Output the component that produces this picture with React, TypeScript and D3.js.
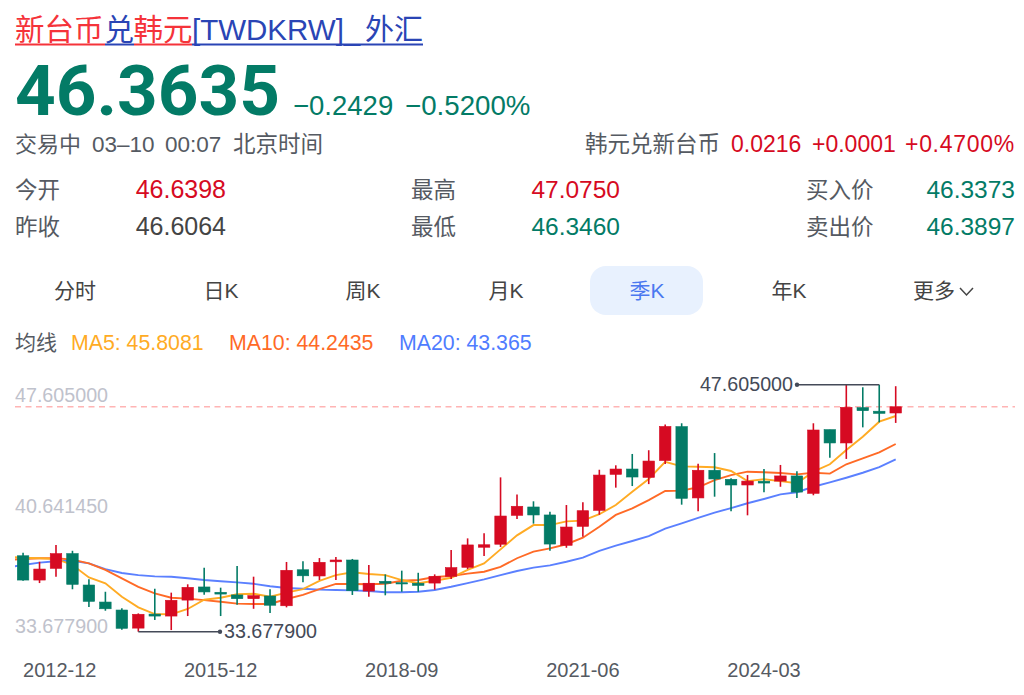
import React, { useEffect, useRef } from 'react';
import * as d3 from 'd3';

// one quarter before the first candle, only the MA lines reach into it
const quarters = [
	'2012-09', '2012-12',
	'2013-03', '2013-06', '2013-09', '2013-12',
	'2014-03', '2014-06', '2014-09', '2014-12',
	'2015-03', '2015-06', '2015-09', '2015-12',
	'2016-03', '2016-06', '2016-09', '2016-12',
	'2017-03', '2017-06', '2017-09', '2017-12',
	'2018-03', '2018-06', '2018-09', '2018-12',
	'2019-03', '2019-06', '2019-09', '2019-12',
	'2020-03', '2020-06', '2020-09', '2020-12',
	'2021-03', '2021-06', '2021-09', '2021-12',
	'2022-03', '2022-06', '2022-09', '2022-12',
	'2023-03', '2023-06', '2023-09', '2023-12',
	'2024-03', '2024-06', '2024-09', '2024-12',
	'2025-03', '2025-06', '2025-09', '2025-12',
	'2026-03',
];

const opens = [
	37.96, 36.59, 37.25, 38.08, 36.31, 35.35, 34.90, 33.88, 34.67, 34.56,
	35.46, 36.20, 35.90, 35.75, 35.54, 35.69, 35.14, 37.17, 36.82, 37.62,
	37.72, 35.97, 36.52, 36.44, 36.41, 36.42, 36.80, 37.31, 38.44, 38.61,
	40.24, 40.71, 40.26, 38.55, 39.62, 40.52, 42.55, 42.85, 42.38, 43.33,
	45.24, 41.22, 42.78, 42.27, 41.95, 42.16, 42.17, 42.46, 41.48, 45.07,
	44.32, 46.31, 46.11, 46.01,
];
const closes = [
	36.59, 37.21, 38.08, 36.35, 35.39, 34.97, 33.87, 34.66, 34.56, 35.45,
	36.18, 35.92, 35.80, 35.54, 35.71, 35.17, 37.14, 36.83, 37.59, 37.72,
	35.99, 36.41, 36.41, 36.37, 36.29, 36.80, 37.29, 38.57, 38.58, 40.20,
	40.75, 40.26, 38.62, 39.58, 40.50, 42.51, 42.85, 42.40, 43.30, 45.25,
	41.20, 42.78, 42.29, 41.95, 42.17, 42.06, 42.46, 41.55, 45.05, 44.32,
	46.33, 46.14, 45.99, 46.36,
];
const highs = [
	38.13, 37.62, 38.57, 38.24, 36.63, 35.93, 35.00, 34.71, 36.10, 35.88,
	36.35, 37.29, 36.16, 37.38, 36.78, 36.07, 37.61, 37.65, 37.83, 37.89,
	37.78, 37.44, 36.91, 37.12, 37.00, 36.91, 38.28, 38.94, 39.23, 42.38,
	41.42, 41.03, 40.44, 40.82, 40.97, 42.81, 43.06, 43.70, 43.91, 45.36,
	45.43, 43.15, 43.75, 42.33, 42.51, 42.85, 43.08, 42.72, 45.43, 45.07,
	47.605, 47.46, 47.605, 47.52,
];
const lows = [
	36.55, 36.42, 36.78, 36.07, 35.07, 34.86, 33.79, 33.6779, 34.34, 33.77,
	34.56, 35.76, 34.56, 35.20, 34.97, 34.73, 35.05, 36.46, 36.59, 36.59,
	35.75, 35.65, 35.73, 35.93, 35.93, 36.05, 36.65, 37.21, 37.95, 38.45,
	40.03, 39.77, 38.24, 38.41, 39.03, 40.27, 41.80, 41.89, 42.00, 43.13,
	40.84, 40.47, 41.29, 40.47, 40.24, 41.54, 41.85, 41.22, 41.37, 43.49,
	43.42, 45.20, 45.48, 45.45,
];

const ma5 = [
	37.91, 37.85, 37.82, 37.78, 37.44, 36.74, 36.41, 35.65, 35.05, 34.67, 34.66,
	34.96, 35.48, 35.59, 35.79, 35.82, 35.65, 35.88, 36.08, 36.54, 36.87,
	37.03, 36.93, 36.87, 36.59, 36.41, 36.55, 36.72, 37.16, 37.53, 38.32,
	39.11, 39.69, 39.69, 39.90, 39.94, 40.30, 40.82, 41.57, 42.29, 43.25,
	43.00, 42.98, 42.95, 42.74, 42.17, 42.27, 42.17, 42.05, 42.70, 43.12,
	43.92, 44.67, 45.52, 45.84,
];
const ma10 = [
	37.72, 37.78, 37.82, 37.82, 37.74, 37.53, 37.16, 36.69, 36.21, 35.84, 35.59,
	35.54, 35.46, 35.37, 35.26, 35.24, 35.24, 35.52, 35.75, 36.08, 36.37,
	36.37, 36.35, 36.38, 36.55, 36.59, 36.76, 36.82, 36.95, 37.06, 37.33,
	37.82, 38.19, 38.38, 38.61, 38.98, 39.60, 40.26, 40.63, 41.10, 41.61,
	41.63, 41.82, 42.23, 42.51, 42.70, 42.67, 42.63, 42.55, 42.64, 42.59,
	43.12, 43.45, 43.79, 44.26,
];
const ma20 = [
	37.29, 37.44, 37.57, 37.65, 37.68, 37.53, 37.21, 36.99, 36.87, 36.80, 36.78,
	36.69, 36.59, 36.52, 36.46, 36.38, 36.24, 36.14, 36.10, 36.05, 36.03,
	36.01, 35.97, 35.90, 35.90, 35.93, 36.03, 36.21, 36.42, 36.63, 36.87,
	37.10, 37.29, 37.42, 37.62, 37.85, 38.24, 38.53, 38.79, 39.07, 39.49,
	39.79, 40.10, 40.39, 40.65, 40.92, 41.16, 41.42, 41.54, 41.85, 42.10,
	42.36, 42.64, 42.96, 43.40,
];

const yLabels = ['47.605000', '40.641450', '33.677900'];
const xLabels = ['2012-12', '2015-12', '2018-09', '2021-06', '2024-03'];
const tabs = ['分时', '日K', '周K', '月K', '季K', '年K', '更多'];
const tabCenters = [75, 221, 363, 506, 647, 789, 934];

const maxPrice = 47.605;
const minPrice = 33.6779;
const lastPrice = 46.3635;

const RED = '#D60A22';
const GREEN = '#037B66';
const GREY = '#555A62';
const SANS = '"Liberation Sans", "Noto Sans CJK SC", sans-serif';

const App: React.FC = () => {
	const svgRef = useRef<SVGSVGElement | null>(null);

	useEffect(() => {
		if (svgRef.current == null) return;

		const svg = d3.select(svgRef.current);
		svg.selectAll('*').remove();
		svg.attr('font-family', SANS);

		const label = (x: number, y: number, s: string, size: number, fill: string, anchor = 'start') =>
			svg.append('text')
				.attr('x', x)
				.attr('y', y)
				.attr('font-size', size)
				.attr('fill', fill)
				.attr('text-anchor', anchor)
				.text(s);

		// title
		const titleRed = '#F5333A';
		const titleBlue = '#2A45B5';
		label(15, 40, '新台币', 29.5, titleRed);
		label(104.5, 40, '兑', 29.5, titleBlue);
		label(133.5, 40, '韩元', 29.5, titleRed);
		label(192, 40, '[TWDKRW]_', 29.5, titleBlue);
		label(365, 40, '外汇', 29, titleBlue);
		const underline = [[15, 105, titleRed], [105, 134, titleBlue], [134, 192, titleRed], [192, 423, titleBlue]];
		underline.forEach(([a, b, c]) => {
			svg.append('line')
				.attr('x1', a).attr('x2', b)
				.attr('y1', 44.5).attr('y2', 44.5)
				.attr('stroke', c as string)
				.attr('stroke-width', 2);
		});

		// price block
		label(15, 115, '46.3635', 71, GREEN)
			.attr('font-family', 'Roboto, sans-serif')
			.attr('font-weight', 700);
		label(293, 115, '−0.2429', 27.5, GREEN);
		label(405, 115, '−0.5200%', 27.7, GREEN);

		label(15, 152, '交易中', 22, GREY);
		label(92, 152, '03–10', 22.5, GREY);
		label(165, 152, '00:07', 22.5, GREY);
		label(233, 152, '北京时间', 22.5, GREY);
		label(720, 152, '韩元兑新台币', 22.5, GREY, 'end');
		label(731, 152, '0.0216', 23, RED);
		label(812, 152, '+0.0001', 23, RED);
		label(905, 152, '+0.4700%', 23, RED).attr('letter-spacing', 0.7);

		label(15, 198, '今开', 22.5, GREY);
		label(226, 198, '46.6398', 25, RED, 'end');
		label(15, 235, '昨收', 22.5, GREY);
		label(226, 235, '46.6064', 25, '#444', 'end');
		label(411, 198, '最高', 22.5, GREY);
		label(620, 198, '47.0750', 24.5, RED, 'end');
		label(411, 235, '最低', 22.5, GREY);
		label(620, 235, '46.3460', 24.5, GREEN, 'end');
		label(806, 198, '买入价', 22.5, GREY);
		label(1015, 198, '46.3373', 24.5, GREEN, 'end');
		label(806, 235, '卖出价', 22.5, GREY);
		label(1015, 235, '46.3897', 24.5, GREEN, 'end');

		// period tabs
		svg.append('rect')
			.attr('x', 590).attr('y', 266)
			.attr('width', 113).attr('height', 49)
			.attr('rx', 16)
			.attr('fill', '#E8F1FE');
		tabs.forEach((t, i) => {
			label(tabCenters[i], 298, t, 21, i === 4 ? '#4B78F0' : '#444', 'middle');
		});
		svg.append('path')
			.attr('d', d3.line()([[960, 288], [966.5, 295], [973, 288]]))
			.attr('fill', 'none')
			.attr('stroke', '#444')
			.attr('stroke-width', 1.5);

		// legend
		label(15, 350, '均线', 21, GREY);
		label(71, 350, 'MA5: 45.8081', 21.3, '#FFAB24');
		label(229, 350, 'MA10: 44.2435', 21.3, '#FF6A26');
		label(399, 350, 'MA20: 43.365', 21.3, '#4F7CFF');

		// chart
		const xScale = d3.scalePoint<string>()
			.domain(quarters)
			.range([6.6, 895.7]);

		const yScale = d3.scaleLinear()
			.domain([minPrice, maxPrice])
			.range([631.7, 384.7]);

		svg.append('line')
			.attr('x1', 15).attr('x2', 1015)
			.attr('y1', yScale(lastPrice)).attr('y2', yScale(lastPrice))
			.attr('stroke', '#FFB4B4')
			.attr('stroke-width', 1.5)
			.attr('stroke-dasharray', '6 4.5');

		const yLabelBaselines = [402, 513, 633];
		yLabels.forEach((s, i) => label(15, yLabelBaselines[i], s, 19.7, '#BFC2CC'));

		// MA lines start at the left edge of the plot and run under the candles
		svg.append('clipPath')
			.attr('id', 'plot')
			.append('rect')
			.attr('x', 15).attr('y', 370)
			.attr('width', 1000).attr('height', 280);

		const maLine = d3.line<number>()
			.x((_, i) => xScale(quarters[i])!)
			.y(d => yScale(d));

		const maSeries: [number[], string][] = [[ma20, '#5B80FF'], [ma10, '#FF6A26'], [ma5, '#FFAB24']];
		maSeries.forEach(([values, color]) => {
			svg.append('path')
				.attr('clip-path', 'url(#plot)')
				.attr('d', maLine(values))
				.attr('fill', 'none')
				.attr('stroke', color)
				.attr('stroke-width', 1.9);
		});

		const candleDates = quarters.slice(1);
		const bodyWidth = 11.5;
		const candles = svg.append('g')
			.selectAll('g')
			.data(candleDates)
			.join('g')
			.attr('fill', (_, i) => (closes[i] >= opens[i] ? RED : GREEN))
			.attr('stroke', (_, i) => (closes[i] >= opens[i] ? RED : GREEN));

		candles.append('line')
			.attr('x1', d => xScale(d)!)
			.attr('x2', d => xScale(d)!)
			.attr('y1', (_, i) => yScale(highs[i]))
			.attr('y2', (_, i) => yScale(lows[i]))
			.attr('stroke-width', 1.6);

		candles.append('rect')
			.attr('x', d => xScale(d)! - bodyWidth / 2)
			.attr('y', (_, i) => yScale(Math.max(opens[i], closes[i])))
			.attr('width', bodyWidth)
			.attr('height', (_, i) => Math.abs(yScale(opens[i]) - yScale(closes[i])))
			.attr('stroke-width', 0.6);

		// high / low markers
		const markColor = '#444A58';
		const hiX = xScale('2025-12')!;
		const hiY = yScale(maxPrice);
		svg.append('path')
			.attr('d', d3.line()([[hiX, hiY], [797, hiY]]))
			.attr('stroke', markColor)
			.attr('stroke-width', 1.4);
		svg.append('circle').attr('cx', 797).attr('cy', hiY).attr('r', 2.2).attr('fill', markColor);
		label(793, hiY + 6, '47.605000', 19.7, markColor, 'end');

		const loX = xScale('2014-09')!;
		const loY = yScale(minPrice);
		svg.append('path')
			.attr('d', d3.line()([[loX, loY], [220, loY]]))
			.attr('stroke', markColor)
			.attr('stroke-width', 1.4);
		svg.append('circle').attr('cx', 220).attr('cy', loY).attr('r', 2.2).attr('fill', markColor);
		label(224, loY + 6, '33.677900', 19.7, markColor);

		// time axis, the first label sits right of its candle
		xLabels.forEach((s, i) => {
			label(xScale(s)!, 677, s, 20, GREY, i === 0 ? 'start' : 'middle');
		});
	}, []);

	return (
		<svg
			ref={svgRef}
			width={1024}
			height={695}
			style={{ position: 'absolute', left: 0, top: 0, display: 'block' }}
		></svg>
	);
};

export default App;
